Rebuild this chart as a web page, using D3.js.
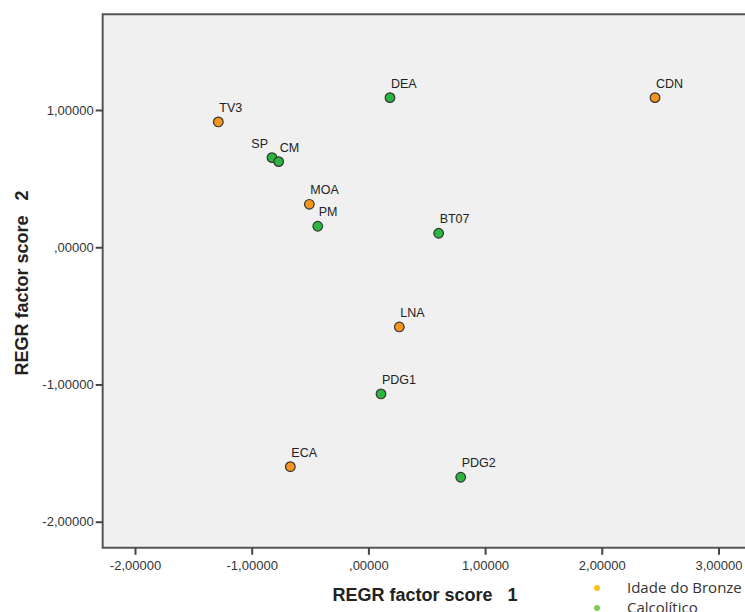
<!DOCTYPE html>
<html>
<head>
<meta charset="utf-8">
<script src="https://cdn.jsdelivr.net/npm/d3@7"></script>
<style>
  body { margin: 0; background: #fff; }
  svg { display: block; }
</style>
</head>
<body>
<svg id="chart" width="745" height="612"></svg>
<script>
// sites and their factor scores
const sites = ["TV3", "DEA", "CDN", "SP", "CM", "MOA", "PM", "BT07", "LNA", "PDG1", "ECA", "PDG2"];
const score1 = [-1.286, 0.185, 2.456, -0.826, -0.769, -0.506, -0.434, 0.602, 0.265, 0.108, -0.669, 0.791];
const score2 = [0.913, 1.090, 1.090, 0.653, 0.624, 0.313, 0.153, 0.102, -0.581, -1.069, -1.599, -1.676];
const period = ["Idade do Bronze", "Calcolítico", "Idade do Bronze", "Calcolítico", "Calcolítico",
                "Idade do Bronze", "Calcolítico", "Calcolítico", "Idade do Bronze", "Calcolítico",
                "Idade do Bronze", "Calcolítico"];

const groups = ["Idade do Bronze", "Calcolítico"];
const xTicks = [-2, -1, 0, 1, 2, 3];
const yTicks = [-2, -1, 0, 1];

const fmt = v => {
  const s = Math.abs(v).toFixed(5).replace(".", ",");
  return (v < 0 ? "-" : "") + (Math.abs(v) < 1 ? s.replace(/^0/, "") : s);
};

const svg = d3.select("#chart");

const x = d3.scaleLinear().domain([-2, 3]).range([135, 718.5]);
const y = d3.scaleLinear().domain([-2, 1]).range([521.7, 110]);

const dotColor = d3.scaleOrdinal().domain(groups).range(["#f7941d", "#2bb63f"]);
const legendColor = d3.scaleOrdinal().domain(groups).range(["#fbbf16", "#7cc95a"]);

const pLeft = x(-2.277), pTop = y(1.697), pBottom = y(-2.19), pRight = 800;

// plot background
svg.append("rect")
  .attr("x", pLeft).attr("y", pTop)
  .attr("width", pRight - pLeft).attr("height", pBottom - pTop)
  .attr("fill", "#f0f0f0");

// frame
svg.append("path")
  .attr("d", `M${pRight},${pTop}H${pLeft}V${pBottom}H${pRight}`)
  .attr("fill", "none")
  .attr("stroke", "#555")
  .attr("stroke-width", 2);

// x axis
const xAxis = svg.append("g")
  .attr("transform", `translate(0,${pBottom})`)
  .call(d3.axisBottom(x).tickValues(xTicks).tickFormat(fmt).tickSize(7).tickSizeOuter(0));
xAxis.select(".domain").remove();
xAxis.selectAll("line").attr("stroke", "#444").attr("stroke-width", 2);
xAxis.selectAll("text")
  .attr("fill", "#333")
  .attr("dy", "0.95em")
  .style("font", "13px 'Liberation Sans', Arial, sans-serif");

// y axis
const yAxis = svg.append("g")
  .attr("transform", `translate(${pLeft},0)`)
  .call(d3.axisLeft(y).tickValues(yTicks).tickFormat(fmt).tickSize(7).tickSizeOuter(0));
yAxis.select(".domain").remove();
yAxis.selectAll("line").attr("stroke", "#444").attr("stroke-width", 2);
yAxis.selectAll("text")
  .attr("fill", "#333")
  .attr("x", -9)
  .style("font", "13px 'Liberation Sans', Arial, sans-serif");

// axis titles
svg.append("text")
  .attr("x", 425).attr("y", 601)
  .attr("text-anchor", "middle")
  .attr("fill", "#222")
  .style("font", "bold 18px 'Liberation Sans', Arial, sans-serif")
  .style("white-space", "pre")
  .text("REGR factor score   1");

svg.append("text")
  .attr("transform", "translate(28,283) rotate(-90)")
  .attr("text-anchor", "middle")
  .attr("fill", "#222")
  .style("font", "bold 18px 'Liberation Sans', Arial, sans-serif")
  .style("white-space", "pre")
  .text("REGR factor score   2");

// points
const idx = d3.range(sites.length);
svg.append("g")
  .selectAll("circle")
  .data(idx)
  .join("circle")
    .attr("cx", i => x(score1[i]))
    .attr("cy", i => y(score2[i]))
    .attr("r", 4.8)
    .attr("fill", i => dotColor(period[i]))
    .attr("stroke", "#333")
    .attr("stroke-width", 1.2);

svg.append("g")
  .selectAll("text")
  .data(idx)
  .join("text")
    .attr("x", i => x(score1[i]) + (sites[i] === "SP" ? -4 : 1))
    .attr("y", i => y(score2[i]) - 10)
    .attr("text-anchor", i => sites[i] === "SP" ? "end" : "start")
    .attr("fill", "#222")
    .style("font", "12.5px 'Liberation Sans', Arial, sans-serif")
    .text(i => sites[i]);

// legend
const legend = svg.append("g")
  .selectAll("g")
  .data(groups)
  .join("g")
    .attr("transform", (d, i) => `translate(597,${588 + i * 20})`);
legend.append("circle")
  .attr("r", 3)
  .attr("fill", d => legendColor(d));
legend.append("text")
  .attr("x", 30).attr("dy", "0.35em")
  .attr("fill", "#333")
  .style("font", "15px 'Open Sans', 'Noto Sans', sans-serif")
  .text(d => d);
</script>
</body>
</html>
